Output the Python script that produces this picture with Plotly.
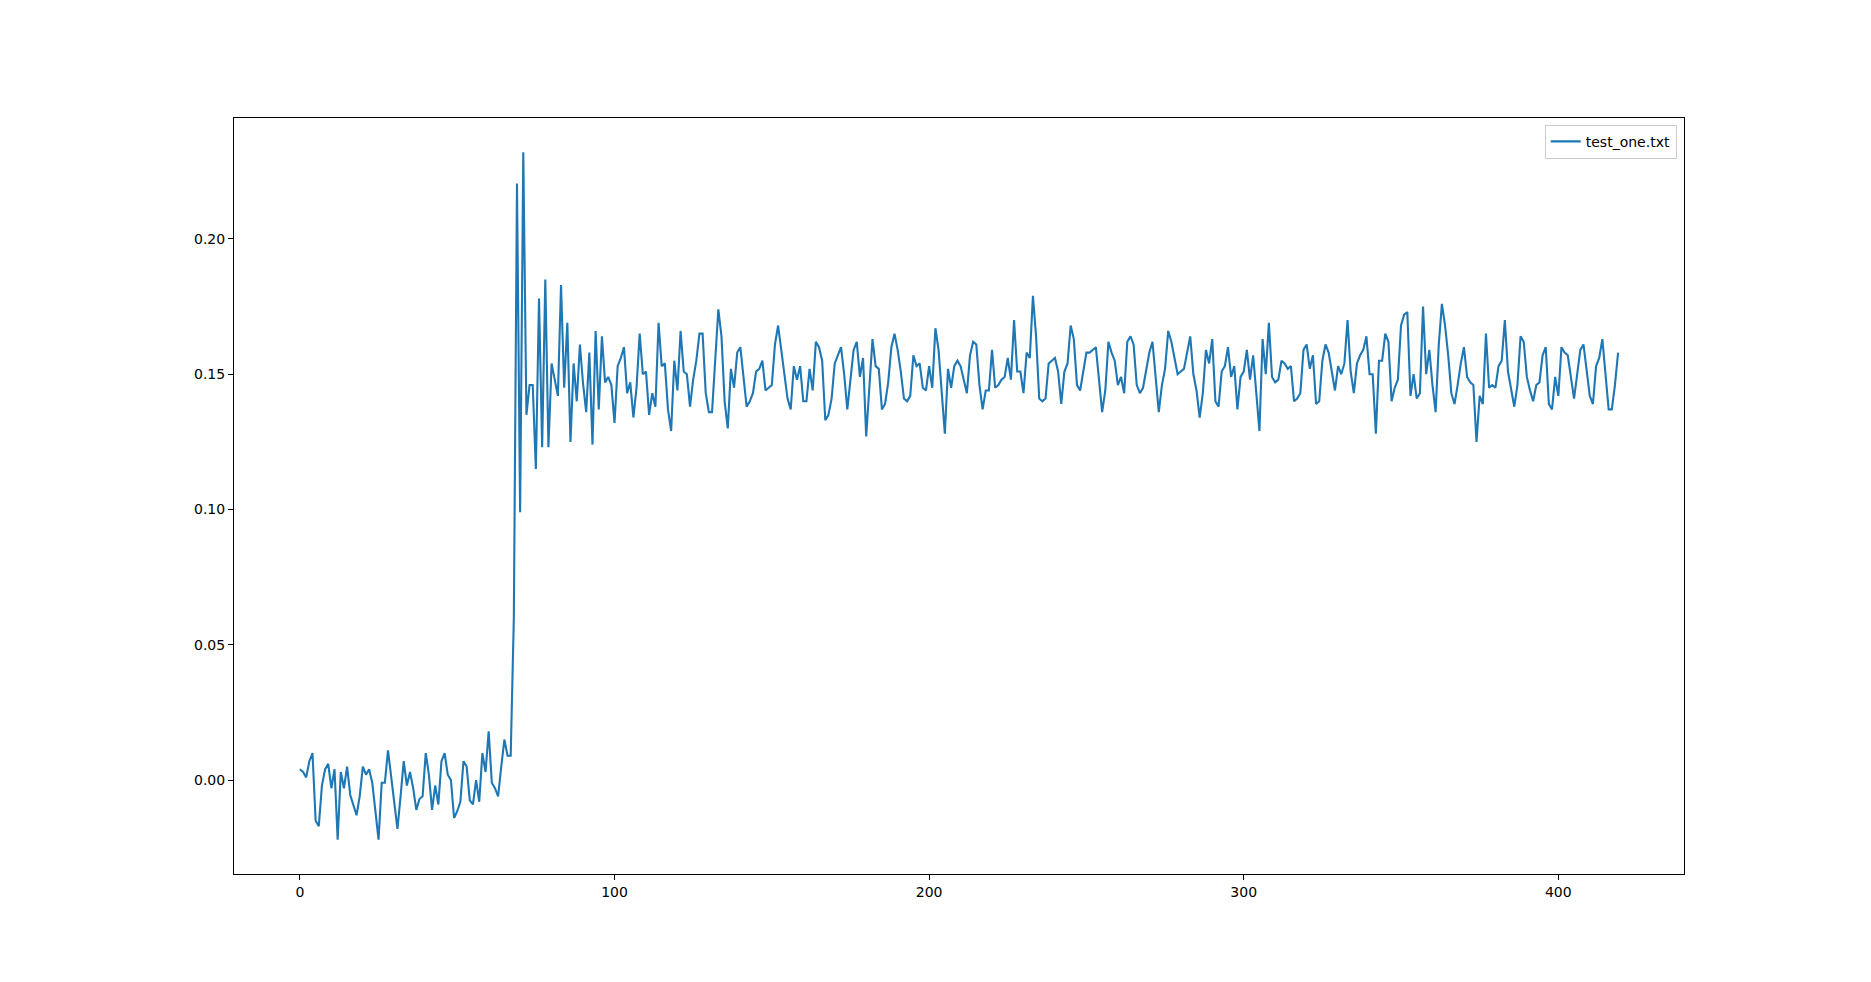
import plotly.graph_objects as go

# series, one value per step (0..419)
values = [
    0.004, 0.003, 0.001, 0.007, 0.010, -0.015, -0.017, -0.002, 0.004, 0.006,
    -0.003, 0.004, -0.022, 0.003, -0.003, 0.005, -0.0055, -0.009, -0.013, -0.006,
    0.005, 0.002, 0.004, -0.001, -0.011, -0.022, -0.001, -0.001, 0.011, 0.001,
    -0.010, -0.018, -0.006, 0.007, -0.002, 0.003, -0.003, -0.011, -0.007, -0.006,
    0.010, 0.002, -0.011, -0.002, -0.009, 0.007, 0.010, 0.002, 0.000, -0.014,
    -0.0115, -0.008, 0.007, 0.005, -0.0075, -0.009, 0.000, -0.008, 0.010, 0.003,
    0.018, -0.001, -0.003, -0.006, 0.005, 0.015, 0.009, 0.009, 0.060, 0.2205,
    0.099, 0.232, 0.135, 0.146, 0.146, 0.115, 0.178, 0.123, 0.185, 0.123,
    0.154, 0.1485, 0.142, 0.183, 0.145, 0.169, 0.125, 0.154, 0.140, 0.161,
    0.1465, 0.136, 0.158, 0.124, 0.166, 0.137, 0.164, 0.147, 0.149, 0.146,
    0.132, 0.153, 0.156, 0.160, 0.143, 0.147, 0.134, 0.145, 0.165, 0.150,
    0.151, 0.135, 0.143, 0.138, 0.169, 0.153, 0.154, 0.137, 0.129, 0.155,
    0.144, 0.166, 0.151, 0.150, 0.138, 0.148, 0.155, 0.165, 0.165, 0.143,
    0.136, 0.136, 0.155, 0.174, 0.164, 0.140, 0.130, 0.152, 0.145, 0.158,
    0.160, 0.149, 0.138, 0.140, 0.143, 0.151, 0.152, 0.155, 0.144, 0.145,
    0.146, 0.161, 0.168, 0.159, 0.149, 0.141, 0.137, 0.153, 0.148, 0.153,
    0.140, 0.140, 0.152, 0.144, 0.162, 0.160, 0.155, 0.133, 0.135, 0.141,
    0.154, 0.157, 0.160, 0.150, 0.137, 0.148, 0.159, 0.162, 0.149, 0.156,
    0.127, 0.145, 0.163, 0.153, 0.152, 0.137, 0.139, 0.147, 0.160, 0.165,
    0.159, 0.151, 0.141, 0.140, 0.142, 0.157, 0.153, 0.154, 0.145, 0.144,
    0.153, 0.145, 0.167, 0.159, 0.142, 0.128, 0.152, 0.145, 0.153, 0.155,
    0.153, 0.148, 0.143, 0.157, 0.162, 0.161, 0.146, 0.137, 0.144, 0.144,
    0.159, 0.145, 0.146, 0.148, 0.149, 0.156, 0.148, 0.170, 0.151, 0.151,
    0.143, 0.158, 0.156, 0.179, 0.164, 0.141, 0.140, 0.141, 0.154, 0.155,
    0.156, 0.151, 0.139, 0.151, 0.154, 0.168, 0.163, 0.146, 0.144, 0.151,
    0.158, 0.158, 0.159, 0.160, 0.148, 0.136, 0.144, 0.162, 0.158, 0.155,
    0.146, 0.149, 0.143, 0.162, 0.164, 0.161, 0.146, 0.143, 0.145, 0.152,
    0.158, 0.162, 0.148, 0.136, 0.146, 0.152, 0.166, 0.162, 0.156, 0.150,
    0.151, 0.152, 0.158, 0.164, 0.150, 0.144, 0.134, 0.143, 0.159, 0.154,
    0.163, 0.140, 0.138, 0.151, 0.153, 0.160, 0.149, 0.153, 0.137, 0.149,
    0.151, 0.159, 0.148, 0.157, 0.143, 0.129, 0.163, 0.150, 0.169, 0.149,
    0.147, 0.148, 0.155, 0.154, 0.152, 0.153, 0.140, 0.141, 0.143, 0.159,
    0.161, 0.152, 0.157, 0.139, 0.140, 0.155, 0.161, 0.158, 0.151, 0.144,
    0.153, 0.150, 0.154, 0.170, 0.151, 0.143, 0.154, 0.157, 0.159, 0.164,
    0.150, 0.150, 0.128, 0.155, 0.155, 0.165, 0.162, 0.140, 0.145, 0.148,
    0.168, 0.172, 0.173, 0.142, 0.150, 0.141, 0.143, 0.175, 0.150, 0.159,
    0.146, 0.136, 0.161, 0.176, 0.168, 0.157, 0.143, 0.139, 0.146, 0.154,
    0.160, 0.149, 0.147, 0.146, 0.125, 0.142, 0.139, 0.165, 0.145, 0.146,
    0.145, 0.153, 0.155, 0.170, 0.151, 0.144, 0.138, 0.146, 0.164, 0.162,
    0.149, 0.144, 0.140, 0.146, 0.147, 0.157, 0.160, 0.139, 0.137, 0.149,
    0.142, 0.160, 0.158, 0.157, 0.149, 0.141, 0.150, 0.159, 0.161, 0.151,
    0.142, 0.139, 0.153, 0.156, 0.163, 0.150, 0.137, 0.137, 0.146, 0.158,
]
steps = list(range(len(values)))

x_ticks = [0, 100, 200, 300, 400]
y_ticks = [0.00, 0.05, 0.10, 0.15, 0.20]
series_name = "test_one.txt"

FONT = "DejaVu Sans"

fig = go.Figure()
fig.add_trace(go.Scatter(
    x=steps, y=values, mode="lines", name=series_name,
    line=dict(color="#1f77b4", width=2.1),
    showlegend=True,
))

axis_common = dict(
    showline=True, linecolor="black", linewidth=1, mirror=True,
    ticks="outside", ticklen=5, tickwidth=1, tickcolor="black",
    showgrid=False, zeroline=False,
    tickfont=dict(family=FONT, size=14, color="black"),
)

# page body adds ~8px offset, so margins are shifted to compensate
fig.update_layout(
    width=1871, height=982,
    paper_bgcolor="white", plot_bgcolor="white",
    margin=dict(l=226, r=195, t=110, b=116),
    font=dict(family=FONT, size=14, color="black"),
    xaxis=dict(range=[-20.95, 439.95], tickvals=x_ticks, **axis_common),
    yaxis=dict(range=[-0.0347, 0.2447], tickvals=y_ticks, tickformat=".2f", **axis_common),
    legend=dict(
        x=0.995, y=0.991, xanchor="right", yanchor="top",
        bgcolor="rgba(255,255,255,0.8)", bordercolor="#cccccc", borderwidth=1,
        font=dict(family=FONT, size=14, color="black"),
        itemwidth=30, tracegroupgap=0,
    ),
)

fig.write_html("out.html")
